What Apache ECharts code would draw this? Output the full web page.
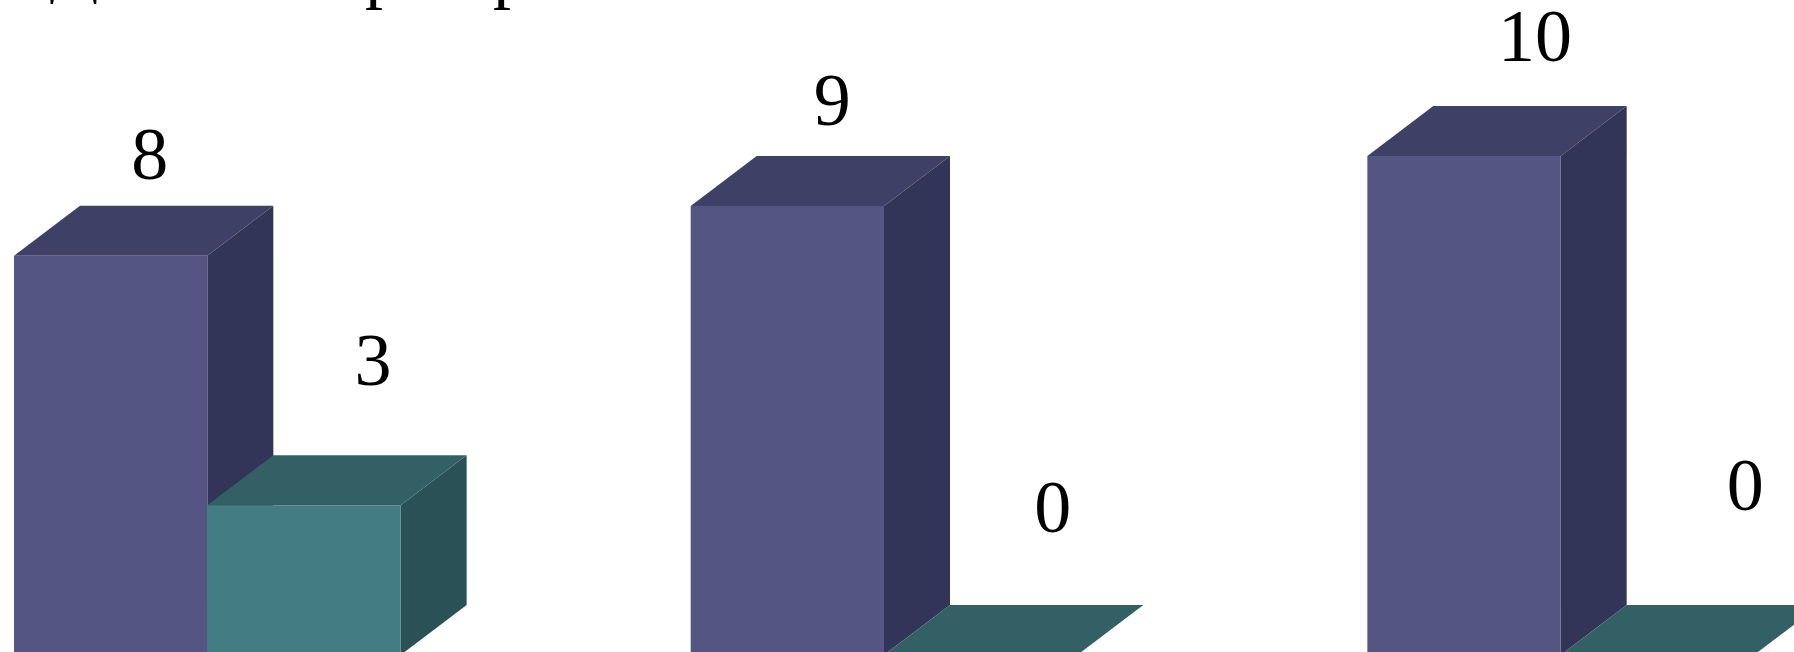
<!DOCTYPE html>
<html>
<head>
<meta charset="utf-8">
<style>html,body{margin:0;padding:0;background:#fff;overflow:hidden}#c{width:1794px;height:652px}</style>
<script src="https://cdn.jsdelivr.net/npm/echarts@6/dist/echarts.min.js"></script>
</head>
<body>
<div id="c"></div>
<script>
// Data
const categories = ['A', 'B', 'C'];
const purpleValues = [8, 9, 10];
const tealValues = [3, 0, 0];

// Hand-placed label offsets in the reference (from bar's front-top-centre, px)
const purpleLabelOffsets = [[39, -96], [45, -100], [71, -114]];
const tealLabelOffsets = [[69, -140], [72, -142], [88, -164]];

// Title is cropped by the top edge: only the descenders of these letters show
const titleLetters = ['Д', 'р', 'р'];
const titleCentres = [74, 383, 511];
const titleMiddles = [-30, -24, -24];

const DEPTH_X = 66, DEPTH_Y = 50, BAR_RATIO = 193.3 / 676.6;
const FONT = '"Liberation Serif","Times New Roman",serif';

function makeBar(values, offsets, colors, side) {
  return function (params, api) {
    const i = params.dataIndex;
    const base = api.coord([i, 0]);
    const top = api.coord([i, api.value(1)]);
    const band = api.size([1, 0])[0];
    const w = band * BAR_RATIO;
    const x0 = side < 0 ? base[0] - w : base[0];
    const x1 = x0 + w;
    const yT = top[1], yB = base[1];
    const o = offsets[i];
    return {
      type: 'group',
      children: [
        { type: 'polygon', shape: { points: [[x1, yT], [x1 + DEPTH_X, yT - DEPTH_Y], [x1 + DEPTH_X, yB - DEPTH_Y], [x1, yB]] }, style: { fill: colors.side } },
        { type: 'polygon', shape: { points: [[x0, yT], [x0 + DEPTH_X, yT - DEPTH_Y], [x1 + DEPTH_X, yT - DEPTH_Y], [x1, yT]] }, style: { fill: colors.top } },
        { type: 'rect', shape: { x: x0, y: yT, width: w, height: yB - yT }, style: { fill: colors.front } },
        { type: 'text', z2: 10, style: { text: String(api.value(1)), x: (x0 + x1) / 2 + o[0], y: yT + o[1], fill: '#000', fontFamily: FONT, fontSize: 74, align: 'center', verticalAlign: 'middle' } }
      ]
    };
  };
}

const chart = echarts.init(document.getElementById('c'), null, { renderer: 'canvas' });
chart.setOption({
  animation: false,
  backgroundColor: '#fff',
  grid: { left: -131, top: 156, width: 2030, height: 499, containLabel: false, outerBoundsMode: 'none' },
  xAxis: { type: 'category', data: categories, show: false },
  yAxis: { type: 'value', min: 0, max: 10, show: false },
  graphic: titleLetters.map((t, i) => ({
    type: 'text', silent: true,
    style: { text: t, x: titleCentres[i], y: titleMiddles[i], fill: '#000', fontFamily: FONT, fontSize: 72, align: 'center', verticalAlign: 'middle' }
  })),
  series: [
    { type: 'custom', clip: false, z: 2, data: categories.map((c, i) => [i, purpleValues[i]]), encode: { x: 0, y: 1 },
      renderItem: makeBar(purpleValues, purpleLabelOffsets, { front: '#545583', top: '#3f4066', side: '#333558' }, -1) },
    { type: 'custom', clip: false, z: 3, data: categories.map((c, i) => [i, tealValues[i]]), encode: { x: 0, y: 1 },
      renderItem: makeBar(tealValues, tealLabelOffsets, { front: '#437c83', top: '#336064', side: '#2a5156' }, 1) }
  ]
});
</script>
</body>
</html>
